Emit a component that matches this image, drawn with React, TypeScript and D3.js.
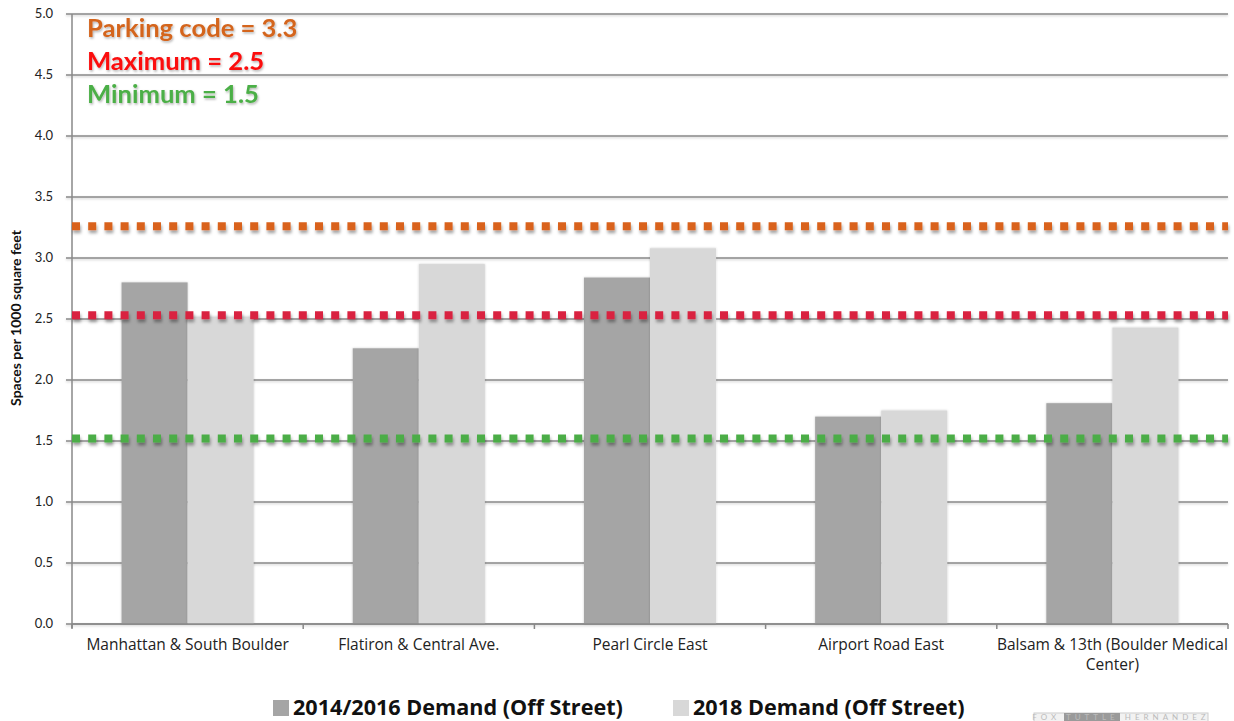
import React from "react";
import * as d3 from "d3";

const categories = [
  ["Manhattan & South Boulder"],
  ["Flatiron & Central Ave."],
  ["Pearl Circle East"],
  ["Airport Road East"],
  ["Balsam & 13th (Boulder Medical", "Center)"],
];
const seriesNames = ["2014/2016 Demand (Off Street)", "2018 Demand (Off Street)"];
const demand2014 = [2.8, 2.26, 2.84, 1.7, 1.81];
const demand2018 = [2.52, 2.95, 3.08, 1.75, 2.43];
const yTicks = [0, 0.5, 1, 1.5, 2, 2.5, 3, 3.5, 4, 4.5, 5];
const refLines = [
  { label: "Parking code = 3.3", value: 3.26, color: "#d9621c" },
  { label: "Maximum = 2.5", value: 2.53, color: "#d92340" },
  { label: "Minimum = 1.5", value: 1.52, color: "#4cad47" },
];
const labelColors = ["#d4651f", "#fb0a0a", "#4caf46"];
const seriesColors = ["#a5a5a5", "#d8d8d8"];

export default function App() {
  const W = 1234, H = 721;
  const left = 72, right = 1228, top = 14, bottom = 624;
  const y = d3.scaleLinear().domain([0, 5]).range([bottom, top]);
  const keys = categories.map((c) => c.join(" "));
  const x = d3.scaleBand().domain(keys).range([left, right]).padding(0);
  const bw = x.bandwidth();
  const inner = d3
    .scaleBand()
    .domain(["a", "b"])
    .range([bw * 0.75 / 3.5, bw - bw * 0.75 / 3.5])
    .padding(0);
  const data = [demand2014, demand2018];
  const font = "'Open Sans', Lato, sans-serif";
  const fontL = "Lato, 'Open Sans', sans-serif";

  return (
    <svg width={W} height={H} style={{ position: "absolute", left: 0, top: 0, background: "#fff" }}>
      <defs>
        <filter id="sh" filterUnits="userSpaceOnUse" x={0} y={0} width={W} height={H}>
          <feDropShadow dx="1" dy="3" stdDeviation="1.5" floodColor="#000" floodOpacity="0.35" />
        </filter>
        <filter id="shl" filterUnits="userSpaceOnUse" x={0} y={0} width={W} height={H}>
          <feDropShadow dx="0" dy="1.2" stdDeviation="0.8" floodColor="#000" floodOpacity="0.2" />
        </filter>
        <filter id="sht" x="-10%" y="-30%" width="120%" height="160%">
          <feDropShadow dx="1" dy="1.5" stdDeviation="1" floodColor="#000" floodOpacity="0.3" />
        </filter>
        <filter id="shb" x="-10%" y="-10%" width="120%" height="120%">
          <feDropShadow dx="0" dy="0" stdDeviation="1" floodColor="#000" floodOpacity="0.2" />
        </filter>
      </defs>
      {/* gridlines */}
      {yTicks.map((t) => (
        <g key={t}>
          <line x1={66} x2={right} y1={y(t)} y2={y(t)} stroke="#888" strokeWidth={1.5} filter="url(#shl)" />
          <text x={53} y={y(t) + 4} textAnchor="end" fontFamily={fontL} fontSize={13} fill="#222">
            {t.toFixed(1)}
          </text>
        </g>
      ))}
      {/* y axis */}
      <line x1={left} x2={left} y1={top} y2={bottom + 4} stroke="#888" strokeWidth={1.5} />
      {/* x ticks */}
      {[...keys.map((k) => x(k) as number), right].map((xx, i) => (
        <line key={i} x1={xx} x2={xx} y1={bottom} y2={bottom + 5} stroke="#888" strokeWidth={1.5} />
      ))}
      {/* bars */}
      {keys.map((k, ci) =>
        data.map((s, si) => {
          const bx = (x(k) as number) + (inner(si === 0 ? "a" : "b") as number);
          return (
            <rect
              key={k + si}
              x={bx}
              y={y(s[ci])}
              width={inner.bandwidth()}
              height={bottom - y(s[ci])}
              fill={seriesColors[si]}
              filter="url(#shb)"
            />
          );
        })
      )}
      {/* x axis */}
      <line x1={left} x2={right} y1={bottom} y2={bottom} stroke="#888" strokeWidth={1.5} />
      {/* reference dotted lines */}
      {refLines.map((r) => (
        <line
          key={r.label}
          x1={left}
          x2={right}
          y1={y(r.value)}
          y2={y(r.value)}
          stroke={r.color}
          strokeWidth={8}
          strokeDasharray="8 8.2"
          filter="url(#sh)"
        />
      ))}
      {/* category labels */}
      {categories.map((lines, ci) => (
        <text
          key={ci}
          x={(x(keys[ci]) as number) + bw / 2}
          y={650}
          textAnchor="middle"
          fontFamily={font}
          fontSize={15.5}
          fill="#222"
        >
          {lines.map((l, li) => (
            <tspan key={li} x={(x(keys[ci]) as number) + bw / 2} dy={li === 0 ? 0 : 20}>
              {l}
            </tspan>
          ))}
        </text>
      ))}
      {/* y title */}
      <text
        transform={`translate(21, ${318}) rotate(-90)`}
        textAnchor="middle"
        fontFamily={fontL}
        fontWeight="bold"
        fontSize={14}
        fill="#111"
      >
        Spaces per 1000 square feet
      </text>
      {/* annotations */}
      {refLines.map((r, i) => (
        <text
          key={r.label}
          x={87}
          y={37 + i * 33}
          fontFamily={fontL}
          fontWeight="bold"
          fontSize={25.6}
          fill={labelColors[i]}
          filter="url(#sht)"
        >
          {r.label}
        </text>
      ))}
      {/* legend */}
      {seriesNames.map((n, i) => {
        const lx = i === 0 ? 273 : 673;
        return (
          <g key={n}>
            <rect x={lx} y={700} width={16} height={16} fill={seriesColors[i]} />
            <text x={lx + 20} y={715} fontFamily={font} fontWeight="bold" fontSize={21.6} fill="#111">
              {n}
            </text>
          </g>
        );
      })}
      {/* logo fragment */}
      <g>
        <rect x={1034} y={713} width={174} height={10} fill="#f2f2f2" stroke="#ccc" />
        <rect x={1064} y={713} width={56} height={10} fill="#9a9a9a" />
        <text x={1121} y={720} textAnchor="middle" fontFamily={fontL} fontSize={8} letterSpacing={4} fill="#bbb">
          FOX TUTTLE HERNANDEZ
        </text>
      </g>
    </svg>
  );
}
